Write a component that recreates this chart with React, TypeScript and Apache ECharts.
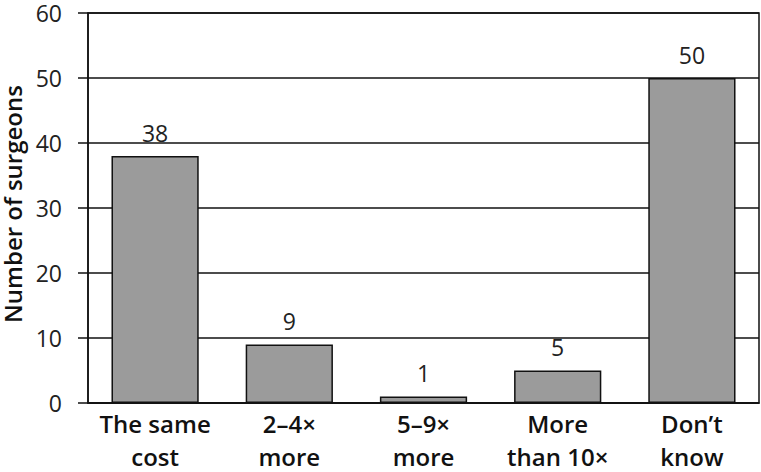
import React, { useEffect, useRef } from "react";
import * as echarts from "echarts";

const categories = ["The same\ncost", "2–4×\nmore", "5–9×\nmore", "More\nthan 10×", "Don’t\nknow"];
const values = [38, 9, 1, 5, 50];
const yTicks = { min: 0, max: 60, interval: 10 };
const yTitle = "Number of surgeons";

export default function App() {
  const ref = useRef<HTMLDivElement>(null);
  useEffect(() => {
    if (!ref.current) return;
    const chart = echarts.init(ref.current, undefined, { renderer: "svg" });
    const font = "'Open Sans', 'Noto Sans', sans-serif";
    chart.setOption({
      animation: false,
      textStyle: { fontFamily: font },
      grid: {
        left: 88,
        right: 2,
        top: 13,
        bottom: 69,
        outerBoundsMode: "none",
        containLabel: false,
        show: true,
        borderColor: "#111",
        borderWidth: 1.5,
        backgroundColor: "transparent",
      },
      xAxis: {
        type: "category",
        data: categories,
        axisLine: { show: true, lineStyle: { color: "#111", width: 1.5 } },
        axisTick: { show: false },
        axisLabel: {
          fontSize: 24,
          fontWeight: 600,
          color: "#111",
          fontFamily: font,
          lineHeight: 33,
          margin: 4,
          interval: 0,
        },
      },
      yAxis: {
        type: "value",
        min: yTicks.min,
        max: yTicks.max,
        interval: yTicks.interval,
        name: yTitle,
        nameLocation: "middle",
        nameGap: 62,
        nameTextStyle: {
          fontSize: 24,
          lineHeight: 24,
          fontWeight: 600,
          color: "#111",
          fontFamily: font,
          padding: [0, 0, 0, 8],
        },
        axisLine: { show: true, lineStyle: { color: "#111", width: 1.5 } },
        axisTick: { show: true, length: 10, lineStyle: { color: "#111", width: 1.5 } },
        axisLabel: { fontSize: 23, lineHeight: 20, color: "#222", margin: 26, fontFamily: font },
        splitLine: { show: true, lineStyle: { color: "#111", width: 1.5 } },
      },
      series: [
        {
          type: "bar",
          data: values,
          barWidth: "65%",
          itemStyle: { color: "#9b9b9b", borderColor: "#111", borderWidth: 1.5 },
          label: {
            show: true,
            position: "top",
            distance: 12,
            fontSize: 23,
            color: "#222",
            fontFamily: font,
          },
        },
      ],
    });
    return () => chart.dispose();
  }, []);
  return <div ref={ref} style={{ width: 761, height: 472, position: "absolute", left: 0, top: 0 }} />;
}
